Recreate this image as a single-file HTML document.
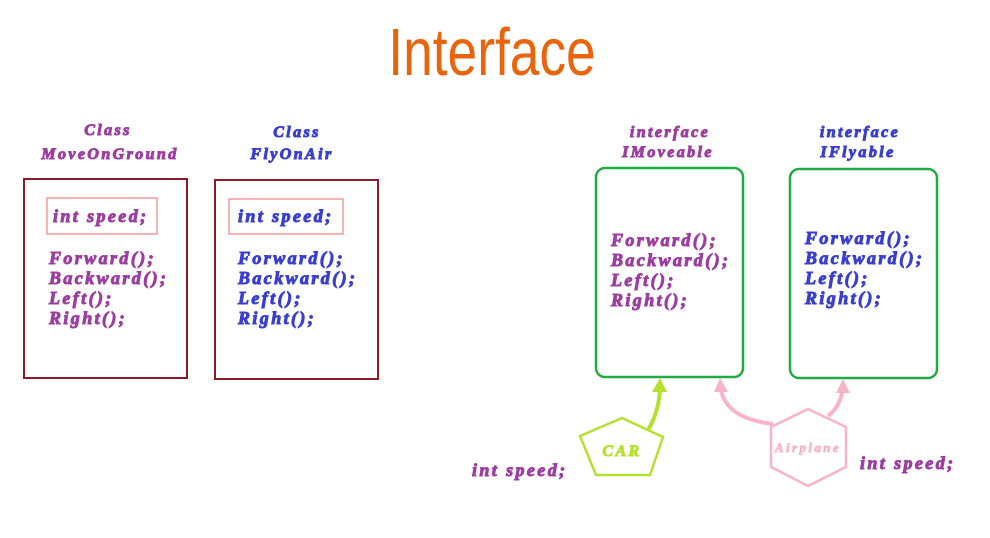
<!DOCTYPE html>
<html><head><meta charset="utf-8"><style>
html,body{margin:0;padding:0;background:#fff;}
.t{font-family:"Liberation Serif",serif;font-weight:700;font-style:italic;letter-spacing:2.4px;}
</style></head><body>
<svg width="990" height="533" viewBox="0 0 990 533" xmlns="http://www.w3.org/2000/svg">
<text x="492" y="75" text-anchor="middle" style="font-family:'Liberation Sans',sans-serif;font-size:62px" fill="#e8650e" transform="translate(492 75) scale(0.86 1.08) translate(-492 -75)">Interface</text>

<g class="t" fill="#9b3fa0" stroke="#9b3fa0" stroke-width="1" font-size="16">
<text x="108" y="135" text-anchor="middle">Class</text>
<text x="110" y="159" text-anchor="middle">MoveOnGround</text>
<text x="53" y="222" font-size="18">int speed;</text>
<text x="49" y="264" font-size="18">Forward();</text>
<text x="49" y="284" font-size="18">Backward();</text>
<text x="49" y="304" font-size="18">Left();</text>
<text x="49" y="324" font-size="18">Right();</text>
<text x="611" y="246" font-size="18">Forward();</text>
<text x="611" y="266" font-size="18">Backward();</text>
<text x="611" y="286" font-size="18">Left();</text>
<text x="611" y="306" font-size="18">Right();</text>
<text x="670" y="137" text-anchor="middle">interface</text>
<text x="668" y="157" text-anchor="middle">IMoveable</text>
<text x="472" y="476" font-size="18">int speed;</text>
<text x="860" y="469" font-size="18">int speed;</text>
</g>
<rect x="24" y="179" width="163" height="199" fill="none" stroke="#8b1a2a" stroke-width="2"/>
<rect x="47" y="198" width="110" height="36" fill="none" stroke="#f08080" stroke-width="1.2"/>

<g class="t" fill="#3a3fcf" stroke="#3a3fcf" stroke-width="1" font-size="16">
<text x="297" y="137" text-anchor="middle">Class</text>
<text x="292" y="159" text-anchor="middle">FlyOnAir</text>
<text x="238" y="222" font-size="18">int speed;</text>
<text x="238" y="264" font-size="18">Forward();</text>
<text x="238" y="284" font-size="18">Backward();</text>
<text x="238" y="304" font-size="18">Left();</text>
<text x="238" y="324" font-size="18">Right();</text>
<text x="860" y="137" text-anchor="middle">interface</text>
<text x="858" y="157" text-anchor="middle">IFlyable</text>
<text x="805" y="244" font-size="18">Forward();</text>
<text x="805" y="264" font-size="18">Backward();</text>
<text x="805" y="284" font-size="18">Left();</text>
<text x="805" y="304" font-size="18">Right();</text>
</g>
<rect x="215" y="180" width="163" height="199" fill="none" stroke="#8b1a2a" stroke-width="2"/>
<rect x="229" y="199" width="114" height="35" fill="none" stroke="#f08080" stroke-width="1.2"/>
<rect x="596" y="168" width="147" height="209" rx="9" fill="none" stroke="#22aa44" stroke-width="2.5"/>
<rect x="790" y="169" width="147" height="209" rx="9" fill="none" stroke="#22aa44" stroke-width="2.5"/>

<path d="M648 430 Q660 410 660 385" fill="none" stroke="#b5e030" stroke-width="4"/>
<path d="M652 392 L660 378 L667 392 Z" fill="#b5e030"/>
<polygon points="622,418 663,437 650,475 596,475 580,436" fill="none" stroke="#b5e030" stroke-width="2.5"/>
<text class="t" x="622" y="456" text-anchor="middle" font-size="16" fill="#b5e030" stroke="#b5e030" stroke-width="1">CAR</text>

<path d="M773 424 Q740 420 728 405 Q720 395 721 384" fill="none" stroke="#f7b3c8" stroke-width="4"/>
<path d="M714 392 L720 378 L728 392 Z" fill="#f7b3c8"/>
<path d="M828 416 Q842 405 843 385" fill="none" stroke="#f7b3c8" stroke-width="4"/>
<path d="M836 393 L843 379 L850 393 Z" fill="#f7b3c8"/>
<polygon points="808,409 846,427 846,467 808,486 771,467 771,427" fill="none" stroke="#f7b3c8" stroke-width="2.5"/>
<text class="t" x="808" y="452" text-anchor="middle" font-size="13" fill="#f7b3c8" stroke="#f7b3c8" stroke-width="0.7" letter-spacing="0.8">Airplane</text>
</svg>
</body></html>
